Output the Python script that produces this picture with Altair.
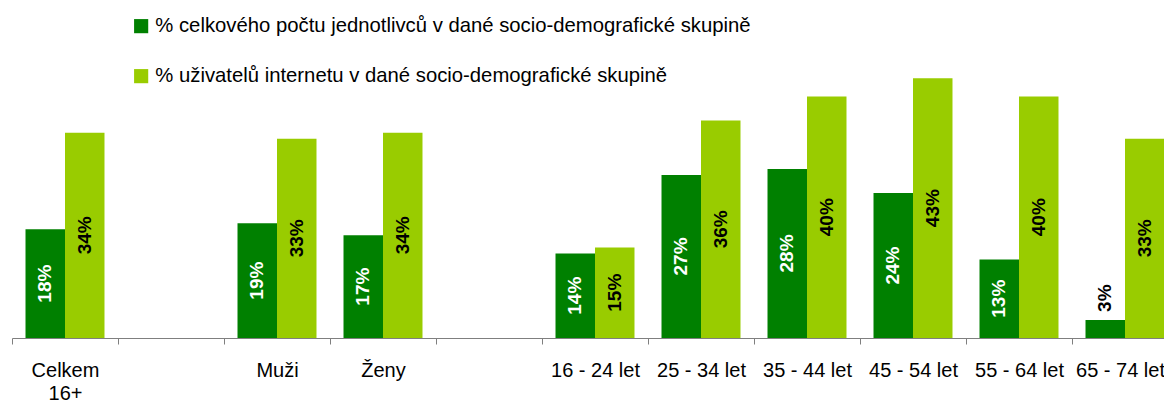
import altair as alt
import pandas as pd

categories = ["Celkem\n16+", "", "Muži", "Ženy", " ", "16 - 24 let", "25 - 34 let",
              "35 - 44 let", "45 - 54 let", "55 - 64 let", "65 - 74 let"]
series = ["% celkového počtu jednotlivců v dané socio-demografické skupině",
          "% uživatelů internetu v dané socio-demografické skupině"]
total_pct = [18, None, 19, 17, None, 14, 27, 28, 24, 13, 3]
internet_pct = [34, None, 33, 34, None, 15, 36, 40, 43, 40, 33]
colors = ["#008000", "#99CC00"]

rows = []
for si, vals in enumerate([total_pct, internet_pct]):
    for c, v in zip(categories, vals):
        if v is not None:
            rows.append({"cat": c, "series": series[si], "s": si, "value": v})
df = pd.DataFrame(rows)

FONT = "Liberation Sans"

x_enc = alt.X("cat:N", sort=categories,
              scale=alt.Scale(domain=categories, paddingInner=0, paddingOuter=0,
                              range=[0, 1166]),
              axis=alt.Axis(title=None, labelAngle=0, labelFontSize=20, labelFont=FONT,
                            labelColor="black", tickBand="extent", tickSize=6,
                            tickColor="#7f7f7f", domainColor="#7f7f7f", labelPadding=16,
                            labelLineHeight=23.5, labelBaseline="top",
                            labelOffset={"condition": {"test": "datum.value == '65 - 74 let'",
                                                       "value": -5}, "value": 0},
                            labelExpr="isString(datum.value) ? split(datum.value, '\\n') : ''"))
xo_enc = alt.XOffset("series:N", scale=alt.Scale(domain=series, paddingOuter=0.342, paddingInner=0))
y_scale = alt.Scale(domain=[0, 50])

base = alt.Chart(df).encode(x=x_enc, xOffset=xo_enc)

bars = base.mark_bar().encode(
    y=alt.Y("value:Q", scale=y_scale, axis=None),
    color=alt.Color("series:N", scale=alt.Scale(domain=series, range=colors),
                    legend=alt.Legend(orient="none", legendX=119, legendY=-20, title=None,
                                      symbolType="square", symbolSize=200, labelFontSize=20.3,
                                      labelFont=FONT, labelColor="black", rowPadding=29,
                                      labelOffset=4, padding=0, symbolStrokeWidth=0,
                                      labelLimit=900)),
)

inside = base.transform_filter("datum.value >= 5").transform_calculate(
    ymid="datum.value / 2", label="datum.value + '%'"
).mark_text(angle=270, fontSize=19, fontWeight="bold", font=FONT,
            align="center", baseline="middle").encode(
    y=alt.Y("ymid:Q", scale=y_scale),
    text="label:N",
    color=alt.condition("datum.s == 0", alt.value("white"), alt.value("black")),
)

outside = base.transform_filter("datum.value < 5").transform_calculate(
    label="datum.value + '%'"
).mark_text(angle=270, fontSize=19, fontWeight="bold", font=FONT,
            align="left", baseline="middle", dx=8, color="black").encode(
    y=alt.Y("value:Q", scale=y_scale),
    text="label:N",
)

chart = alt.layer(bars, inside, outside).properties(
    width=1152, height=302,
    autosize=alt.AutoSizeParams(type="none"),
    padding={"left": 4, "top": 28, "right": 0, "bottom": 66},
).configure_view(strokeWidth=0)

chart.save("out.html", embed_options={"renderer": "svg", "actions": False})
